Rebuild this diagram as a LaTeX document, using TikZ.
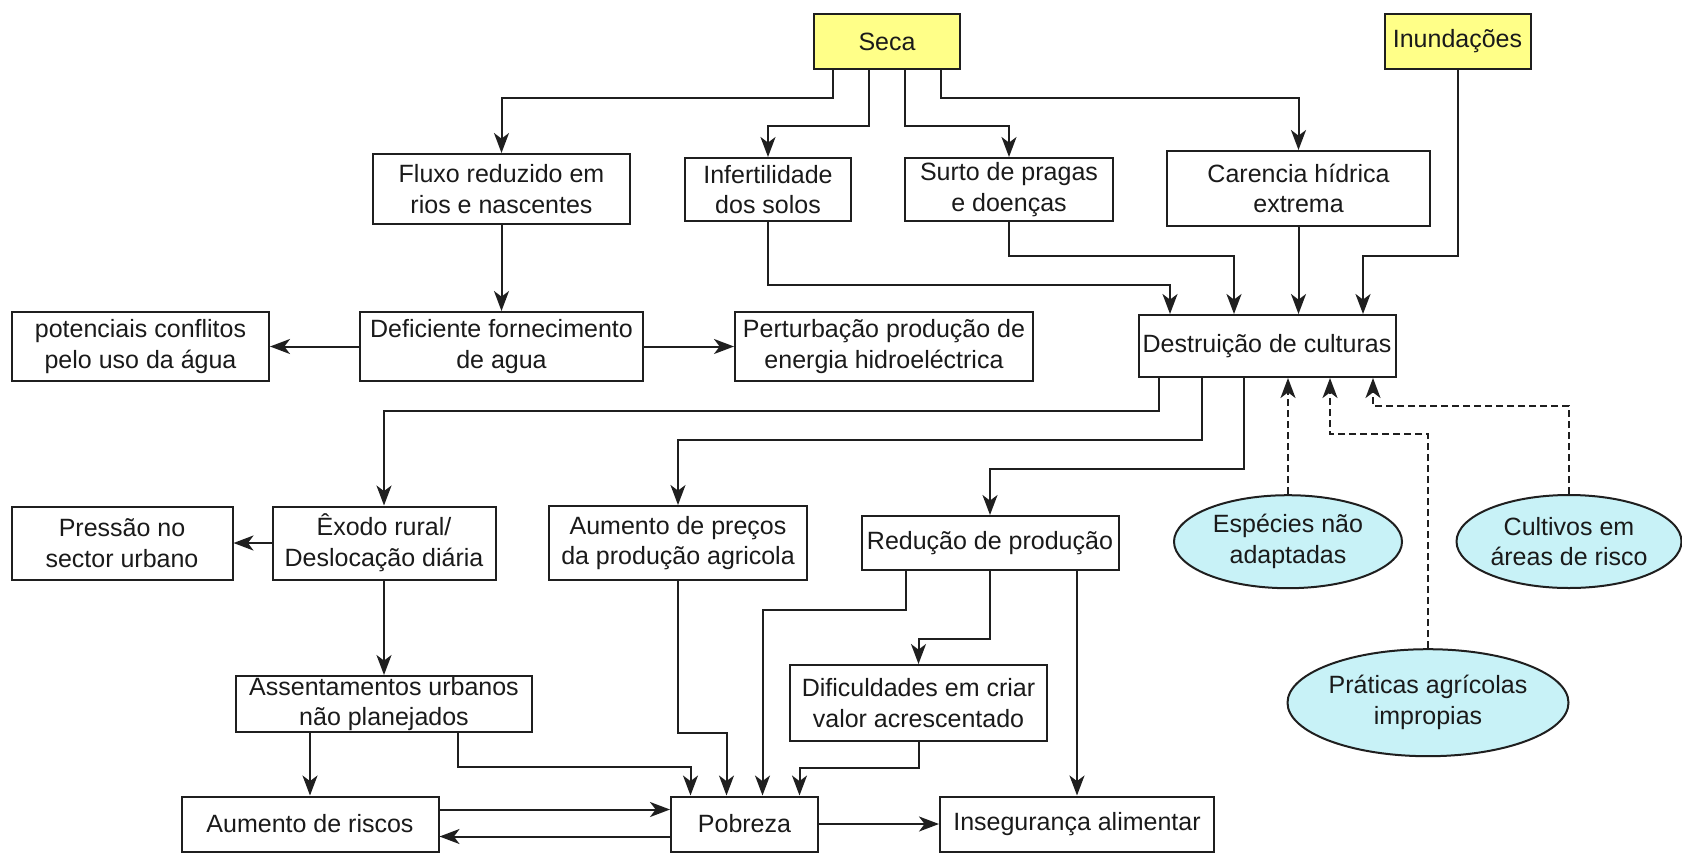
\documentclass[tikz,border=0pt]{standalone}
\usepackage{fontspec}
\setmainfont{Liberation Sans}
\usepackage{xcolor}
\definecolor{cLine}{HTML}{1F1F1F}
\definecolor{cText}{HTML}{1A1A1A}
\definecolor{cYellow}{HTML}{FFFF88}
\definecolor{cCyan}{HTML}{C8F2F7}
\usepackage{tikz}
\usetikzlibrary{positioning,arrows.meta,shapes.geometric,calc}
\tikzset{
  node-box/.style={draw=cLine,line width=1pt,rectangle,inner sep=1pt,
    align=center,text=cText,font=\fontsize{12.5}{15.4}\selectfont},
  node-cause/.style={node-box,fill=cYellow},
  node-factor/.style={node-box,ellipse,inner sep=0pt,fill=cCyan},
  arrow/.style={-{Stealth[length=10pt,width=7.5pt,inset=2.8pt]},line width=1pt,draw=cLine},
  arrow-dash/.style={arrow,dash pattern=on 3.5pt off 2pt},
}

\begin{document}
\begin{tikzpicture}[x=0.5pt,y=-0.5pt]
  \fill[white] (0,0) rectangle (1682,853);
  \useasboundingbox (0,0) rectangle (1682,853);

  % causas
  \node[node-cause,minimum width=73pt,minimum height=27.5pt] (seca) at (887,41.5) {Seca};
  \node[node-cause,minimum width=73pt,minimum height=27.5pt] (inund) at (1457.5,41.5) {Inundações};

  \node[node-box,minimum width=128.5pt,minimum height=35pt] (fluxo) at (501.5,189) {Fluxo reduzido em\\rios e nascentes};
  \node[node-box,minimum width=83pt,minimum height=31.5pt] (infert) at (768,189.5) {Infertilidade\\dos solos};
  \node[node-box,minimum width=104pt,minimum height=31.5pt] (surto) at (1009,189.5) {Surto de pragas\\e doenças};
  \node[node-box,minimum width=131.5pt,minimum height=37.5pt] (carencia) at (1298.5,188.5) {Carencia hídrica\\extrema};

  \node[node-box,minimum width=128.5pt,minimum height=34.5pt] (conflitos) at (140.5,346.5) {potenciais conflitos\\pelo uso da água};
  \node[node-box,minimum width=141.5pt,minimum height=34.5pt] (deficiente) at (501.5,346.5) {Deficiente fornecimento\\de agua};
  \node[node-box,minimum width=149pt,minimum height=34.5pt] (perturb) at (884,346.5) {Perturbação produção de\\energia hidroeléctrica};
  \node[node-box,minimum width=128.5pt,minimum height=31pt] (destr) at (1267,346) {Destruição de culturas};

  \node[node-box,minimum width=110.5pt,minimum height=36.5pt] (pressao) at (122,543) {Pressão no\\sector urbano};
  \node[node-box,minimum width=111.5pt,minimum height=36.5pt] (exodo) at (384,543) {Êxodo rural/\\Deslocação diária};
  \node[node-box,minimum width=129pt,minimum height=37pt] (precos) at (678,543) {Aumento de preços\\da produção agricola};
  \node[node-box,minimum width=128.5pt,minimum height=27pt] (reducao) at (990,543) {Redução de produção};

  % fatores agravantes
  \node[node-factor,minimum width=114pt,minimum height=46.5pt] (especies) at (1288,541.7) {Espécies não\\adaptadas};
  \node[node-factor,minimum width=112.5pt,minimum height=46.5pt] (cultivos) at (1569,541.5) {Cultivos em\\áreas de risco};
  \node[node-factor,minimum width=122pt,minimum height=53.5pt] (praticas) at (1428,702.7) {Práticas agrícolas\\impropias};

  \node[node-box,inner ysep=0pt,minimum width=148pt,minimum height=28pt] (assent) at (384,704) {Assentamentos urbanos\\não planejados};
  \node[node-box,minimum width=128.5pt,minimum height=38pt] (dific) at (918.5,703) {Dificuldades em criar\\valor acrescentado};

  \node[node-box,minimum width=128.5pt,minimum height=27.5pt] (riscos) at (310,824) {Aumento de riscos};
  \node[node-box,minimum width=73.5pt,minimum height=27.5pt] (pobreza) at (744.5,824) {Pobreza};
  \node[node-box,minimum width=137pt,minimum height=27.5pt] (inseg) at (1077,824) {Insegurança alimentar};

  % Seca e Inundações
  \draw[arrow] ($(seca.south)+(-54,0)$) -- ++(0,28) -| (fluxo.north);
  \draw[arrow] ($(seca.south)+(-18,0)$) -- ++(0,56) -| (infert.north);
  \draw[arrow] ($(seca.south)+(18,0)$) -- ++(0,56) -| (surto.north);
  \draw[arrow] ($(seca.south)+(54,0)$) -- ++(0,28) -| (carencia.north);
  \draw[arrow] (inund.south) -- ++(0,186) -| ($(destr.north)+(96,0)$);

  \draw[arrow] (infert.south) -- ++(0,63) -| ($(destr.north)+(-97,0)$);
  \draw[arrow] (surto.south) -- ++(0,34) -| ($(destr.north)+(-33,0)$);
  \draw[arrow] (carencia.south) -- (carencia.south |- destr.north);

  \draw[arrow] (fluxo) -- (deficiente);
  \draw[arrow] (deficiente) -- (conflitos);
  \draw[arrow] (deficiente) -- (perturb);

  % Destruição de culturas
  \draw[arrow] ($(destr.south)+(-108,0)$) -- ++(0,33) -| (exodo.north);
  \draw[arrow] ($(destr.south)+(-65,0)$) -- ++(0,62) -| (precos.north);
  \draw[arrow] ($(destr.south)+(-23,0)$) -- ++(0,91) -| (reducao.north);
  \draw[arrow-dash] (especies.north) -- (especies.north |- destr.south);
  \draw[arrow-dash] (praticas.north) -- ++(0,-214) -| ($(destr.south)+(63,0)$);
  \draw[arrow-dash] (cultivos.north) -- ++(0,-88) -| ($(destr.south)+(106,0)$);

  \draw[arrow] (exodo) -- (pressao);
  \draw[arrow] (exodo) -- (assent);
  \draw[arrow] (assent.south -| riscos.north) -- (riscos.north);
  \draw[arrow] ($(assent.south)+(74,0)$) -- ++(0,34) -| ($(pobreza.north)+(-54,0)$);
  \draw[arrow] (precos.south) -- ++(0,152) -| ($(pobreza.north)+(-18,0)$);
  \draw[arrow] ($(reducao.south)+(-84,0)$) -- ++(0,39) -| ($(pobreza.north)+(18,0)$);
  \draw[arrow] (reducao.south) -- ++(0,68) -| (dific.north);
  \draw[arrow] (reducao.south -| inseg.north) -- (inseg.north);
  \draw[arrow] (dific.south) -- ++(0,26) -| ($(pobreza.north)+(55,0)$);

  % Pobreza
  \draw[arrow] ($(riscos.east)+(0,-14.5)$) -- ($(pobreza.west)+(0,-14.5)$);
  \draw[arrow] ($(pobreza.west)+(0,12.5)$) -- ($(riscos.east)+(0,12.5)$);
  \draw[arrow] (pobreza) -- (inseg);
\end{tikzpicture}
\end{document}
